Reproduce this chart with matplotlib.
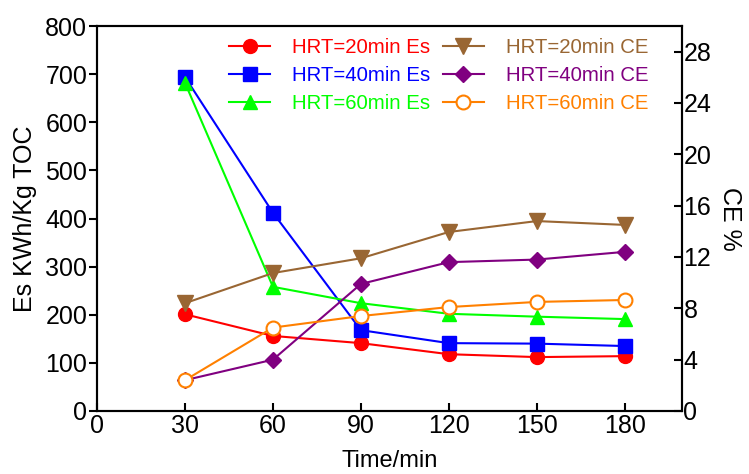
import matplotlib
matplotlib.use("Agg")
import matplotlib.pyplot as plt

plt.rcParams['font.family'] = ['Liberation Sans', 'DejaVu Sans']

time = [30, 60, 90, 120, 150, 180]
es_20 = [201, 156, 141, 118, 112, 114]
es_40 = [694, 412, 168, 141, 140, 135]
es_60 = [682, 258, 224, 202, 196, 191]
ce_20 = [8.4, 10.75, 11.9, 13.95, 14.8, 14.5]
ce_40 = [2.4, 4.0, 9.9, 11.6, 11.8, 12.4]
ce_60 = [2.4, 6.5, 7.4, 8.1, 8.5, 8.65]

x_ticks = [0, 30, 60, 90, 120, 150, 180]
left_ticks = [0, 100, 200, 300, 400, 500, 600, 700, 800]
right_ticks = [0, 4, 8, 12, 16, 20, 24, 28]

fig = plt.figure(figsize=(7.49, 4.74), dpi=100)
ax = fig.add_axes([97/749, 1 - 411/474, (682-97)/749, (411-26)/474])
ax2 = ax.twinx()

lw = 1.5
h1, = ax.plot(time, es_20, color='#FF0000', marker='o', ms=10, lw=lw, label='HRT=20min Es')
h2, = ax.plot(time, es_40, color='#0000FF', marker='s', ms=10, lw=lw, label='HRT=40min Es')
h3, = ax.plot(time, es_60, color='#00FF00', marker='^', ms=10, lw=lw, label='HRT=60min Es')
h4, = ax2.plot(time, ce_20, color='#996633', marker='v', ms=11, lw=lw, label='HRT=20min CE')
h5, = ax2.plot(time, ce_40, color='#800080', marker='D', ms=8, lw=lw, label='HRT=40min CE')
h6, = ax2.plot(time, ce_60, color='#FF8000', marker='o', ms=10, lw=lw, mfc='white', mew=1.5, label='HRT=60min CE')

ax.set_xlim(0, 199.5)
ax.set_ylim(0, 800)
ax2.set_ylim(0, 30)
ax.set_xticks(x_ticks)
ax.set_yticks(left_ticks)
ax2.set_yticks(right_ticks)

for a in (ax, ax2):
    for s in a.spines.values():
        s.set_linewidth(1.5)

ax.tick_params(axis='x', direction='in', length=6, width=1.5, labelsize=18, pad=2)
ax.tick_params(axis='y', direction='out', length=6, width=1.5, labelsize=18, pad=1)
ax2.tick_params(axis='y', direction='in', length=6, width=1.5, labelsize=18, pad=1)

ax.set_xlabel('Time/min', fontsize=17, labelpad=9)
ax.set_ylabel('Es KWh/Kg TOC', fontsize=18, labelpad=6)
ax2.set_ylabel('CE %', fontsize=18, rotation=270, labelpad=22)

handles = [h1, h2, h3, h4, h5, h6]
leg = ax2.legend(handles=handles, ncol=2, loc='upper left', bbox_to_anchor=(0.205, 1.0),
                 frameon=False, fontsize=14.7, handlelength=2.0, handletextpad=1.1,
                 columnspacing=0.6, labelspacing=0.44, borderaxespad=0.2)
for t, h in zip(leg.get_texts(), handles):
    t.set_color(h.get_color())

fig.savefig('out.png', dpi=100)
